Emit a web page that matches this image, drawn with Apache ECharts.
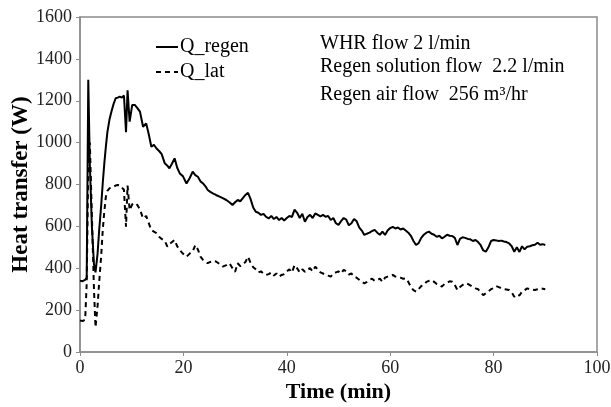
<!DOCTYPE html>
<html>
<head>
<meta charset="utf-8">
<script src="https://cdn.jsdelivr.net/npm/echarts@6/dist/echarts.min.js"></script>
<style>html,body{margin:0;padding:0;background:#fff;}#c{width:611px;height:407px;}</style>
</head>
<body>
<div id="c"></div>
<script>
// Time (min)
const timeMin = [0, 0.5, 1.0, 1.3, 1.6, 1.9, 2.3, 2.7, 3.0, 3.4, 3.7, 4.1, 4.4, 4.7, 5.0, 5.3, 5.7, 6.1, 6.5, 6.9, 7.3, 7.7, 8.1, 8.5, 8.9, 9.2, 9.6, 10.1, 10.6, 11.1, 11.6, 12.2, 12.8, 13.3, 13.8, 14.3, 14.8, 15.3, 15.8, 16.4, 16.9, 17.3, 17.8, 18.3, 18.8, 19.3, 19.9, 20.6, 21.2, 21.8, 22.3, 22.8, 23.3, 23.8, 24.3, 24.7, 25.2, 25.7, 26.3, 27.0, 27.6, 28.3, 28.9, 29.5, 30.0, 30.5,
  31, 31.5, 32, 32.5, 33, 33.5, 34, 34.5, 35, 35.5, 36, 36.5, 37, 37.5, 38, 38.5, 39, 39.5, 40, 40.5,
  41, 41.5, 42, 42.5, 43, 43.5, 44, 44.5, 45, 45.5, 46, 46.5, 47, 47.5, 48, 48.5, 49, 49.5, 50, 50.5,
  51, 51.5, 52, 52.5, 53, 53.5, 54, 54.5, 55, 55.5, 56, 56.5, 57, 57.5, 58, 58.5, 59, 59.5, 60, 60.5,
  61, 61.5, 62, 62.5, 63, 63.5, 64, 64.5, 65, 65.5, 66, 66.5, 67, 67.5, 68, 68.5, 69, 69.5, 70, 70.5,
  71, 71.5, 72, 72.5, 73, 73.5, 74, 74.5, 75, 75.5, 76, 76.5, 77, 77.5, 78, 78.5, 79, 79.5, 80, 80.5,
  81, 81.5, 82, 82.5, 83, 83.5, 84, 84.5, 85, 85.5, 86, 86.5, 87, 87.5, 88, 88.5, 89, 89.5, 90];

// Q_regen (W)
const qRegen = [340, 338, 345, 355, 1300, 900, 600, 420, 380, 470, 580, 700, 806, 900, 980, 1050, 1110, 1150, 1185, 1212, 1215, 1220, 1215, 1225, 1050, 1250, 1100, 1180, 1180, 1165, 1148, 1076, 1092, 1040, 980, 990, 972, 960, 945, 901, 890, 877, 900, 925, 880, 853, 840, 805, 830, 861, 845, 837, 815, 805, 790, 774, 765, 758, 750, 742, 735, 726, 715, 702, 715, 726,
  720, 735, 750, 760, 730, 690, 670, 665, 655, 660, 645, 638, 650, 635, 645, 630, 640, 628, 640, 650,
  645, 680, 665, 640, 660, 622, 645, 655, 640, 662, 655, 648, 655, 646, 650, 630, 640, 615, 607, 625,
  640, 632, 605, 615, 635, 625, 595, 580, 559, 565, 570, 578, 583, 570, 560, 575, 559, 580, 592, 598,
  590, 595, 585, 590, 580, 570, 555, 530, 511, 520, 545, 560, 570, 575, 565, 560, 550, 555, 543, 550,
  560, 555, 554, 545, 511, 540, 548, 545, 540, 538, 530, 535, 525, 510, 485, 479, 500, 530, 535, 533,
  530, 532, 528, 525, 519, 505, 479, 500, 478, 505, 490, 503, 505, 510, 512, 522, 512, 515, 511];

// Q_lat (W)
const qLat = [150, 148, 155, 330, 900, 1000, 650, 300, 118, 220, 330, 460, 583, 670, 742, 770, 782, 785, 790, 795, 798, 795, 785, 775, 598, 795, 678, 705, 712, 702, 680, 638, 650, 615, 583, 575, 567, 550, 540, 530, 503, 515, 525, 535, 505, 487, 470, 455, 470, 480, 511, 490, 455, 440, 432, 424, 430, 435, 432, 420, 408, 415, 424, 400, 383, 424,
  410, 420, 430, 455, 425, 405, 395, 380, 385, 375, 368, 372, 380, 365, 375, 360, 368, 372, 385, 395,
  380, 415, 400, 380, 395, 383, 395, 400, 385, 407, 395, 380, 375, 370, 365, 360, 375, 380, 385, 375,
  392, 385, 370, 375, 360, 355, 345, 335, 328, 335, 345, 350, 340, 344, 350, 335, 355, 360, 365, 368,
  360, 358, 355, 350, 352, 335, 310, 295, 288, 300, 315, 320, 335, 340, 344, 335, 325, 320, 312, 325,
  330, 338, 336, 320, 296, 310, 320, 328, 325, 318, 310, 304, 300, 285, 272, 280, 290, 300, 305, 315,
  310, 305, 300, 298, 296, 285, 264, 275, 270, 288, 295, 304, 300, 298, 296, 300, 304, 302, 300];

const seriesNames = ['Q_regen', 'Q_lat'];
const notes = ['WHR flow 2 l/min', 'Regen solution flow  2.2 l/min', 'Regen air flow  256 m\u00B3/hr'];

const serif = '"Liberation Serif", "DejaVu Serif", serif';
const chart = echarts.init(document.getElementById('c'), null, {renderer: 'canvas'});
const pair = (arr) => timeMin.map((t, i) => [t, arr[i]]);

chart.setOption({
  animation: false,
  backgroundColor: '#fff',
  grid: {left: 80, right: 14, top: 17, bottom: 55, show: true, borderColor: '#8c8c8c', borderWidth: 1.5,
         containLabel: false, outerBoundsMode: 'none'},
  xAxis: {
    type: 'value', min: 0, max: 100, interval: 20,
    name: 'Time (min)', nameLocation: 'middle', nameGap: 29, nameMoveOverlap: false,
    nameTextStyle: {fontFamily: serif, fontSize: 22, fontWeight: 'bold', color: '#000'},
    axisLine: {lineStyle: {color: '#8c8c8c', width: 1.5}},
    axisTick: {show: true, inside: false, length: 4, lineStyle: {color: '#8c8c8c'}},
    axisLabel: {fontFamily: serif, fontSize: 18, color: '#222', margin: 7, formatter: v => String(v)},
    splitLine: {show: false}
  },
  yAxis: {
    type: 'value', min: 0, max: 1600, interval: 200,
    name: 'Heat transfer (W)', nameLocation: 'middle', nameGap: 47, nameRotate: 90, nameMoveOverlap: false,
    nameTextStyle: {fontFamily: serif, fontSize: 23, fontWeight: 'bold', color: '#000'},
    axisLine: {show: true, lineStyle: {color: '#8c8c8c', width: 1.5}},
    axisTick: {show: true, inside: false, length: 4, lineStyle: {color: '#8c8c8c'}},
    axisLabel: {fontFamily: serif, fontSize: 18, color: '#222', margin: 8, formatter: v => String(v)},
    splitLine: {show: false}
  },
  legend: {
    orient: 'vertical', left: 150, top: 32, itemWidth: 22, itemHeight: 12, itemGap: 5,
    itemStyle: {opacity: 0},
    textStyle: {fontFamily: serif, fontSize: 20, color: '#000', padding: [0, 0, 0, -3]},
    data: seriesNames
  },
  graphic: notes.map((t, i) => ({
    type: 'text', left: 320, top: [34, 57, 85][i],
    style: {text: t, font: '20px ' + serif, fill: '#000'}
  })),
  series: [
    {name: seriesNames[0], type: 'line', data: pair(qRegen), showSymbol: false, symbol: 'none',
     lineStyle: {color: '#000', width: 2}, itemStyle: {color: '#000'}},
    {name: seriesNames[1], type: 'line', data: pair(qLat), showSymbol: false, symbol: 'none',
     lineStyle: {color: '#000', width: 2, type: [5, 4]}, itemStyle: {color: '#000'}}
  ]
});
</script>
</body>
</html>
